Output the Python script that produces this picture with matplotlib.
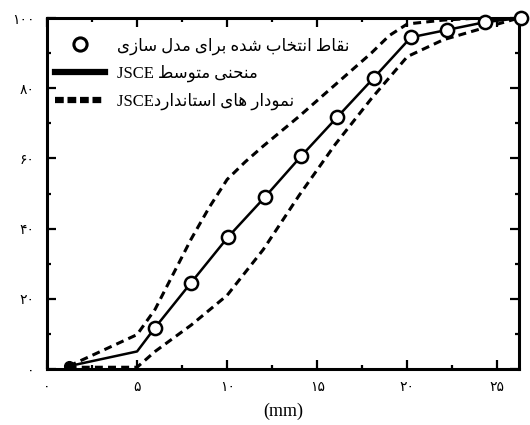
import matplotlib
matplotlib.use('Agg')
import matplotlib.pyplot as plt
from matplotlib.lines import Line2D
from matplotlib.ticker import MultipleLocator, FixedLocator

# منحنی متوسط JSCE (خط پر) و نقاط انتخاب شده
mean_x = [1.2, 5.0, 6.0, 8.0, 10.05, 12.1, 14.1, 16.1, 18.15, 20.2, 22.2, 24.3, 26.3]
mean_y = [0.8, 5.0, 11.8, 24.6, 37.6, 49.0, 60.6, 71.7, 83.0, 94.5, 96.6, 98.8, 100.0]
circle_idx = [2, 3, 4, 5, 6, 7, 8, 9, 10, 11, 12]

# حدود استاندارد JSCE (خط چین)
upper_x = [1.2, 5.0, 6.0, 7.0, 8.0, 9.0, 10.0, 11.0, 12.0, 14.0, 16.0, 18.0, 19.0, 20.0, 22.0, 24.0, 26.2]
upper_y = [0.8, 9.8, 17.0, 27.0, 37.0, 46.0, 54.0, 59.0, 63.5, 72.0, 81.0, 90.0, 95.0, 98.3, 99.4, 100.0, 100.0]
lower_x = [1.2, 5.0, 6.0, 8.0, 10.0, 12.0, 14.0, 16.0, 18.0, 20.0, 22.0, 24.0, 26.2]
lower_y = [0.5, 0.5, 5.0, 12.5, 21.0, 34.0, 49.5, 64.0, 77.0, 89.0, 93.8, 96.8, 100.0]

x_ticks = [0, 5, 10, 15, 20, 25]
x_labels = ['۰', '۵', '۱۰', '۱۵', '۲۰', '۲۵']
y_ticks = [0, 20, 40, 60, 80, 100]
y_labels = ['۰', '۲۰', '۴۰', '۶۰', '۸۰', '۱۰۰']

legend_labels = ['نقاط انتخاب شده برای مدل سازی',
                 'منحنی متوسط JSCE',
                 'نمودار های استانداردJSCE']
x_title = '(mm)'

# شکل های حروف: تنها، پایانی، آغازی، میانی
FORMS = {
    'ا': (0xFE8D, 0xFE8E, None, None),
    'ب': (0xFE8F, 0xFE90, 0xFE91, 0xFE92),
    'ت': (0xFE95, 0xFE96, 0xFE97, 0xFE98),
    'ح': (0xFEA1, 0xFEA2, 0xFEA3, 0xFEA4),
    'خ': (0xFEA5, 0xFEA6, 0xFEA7, 0xFEA8),
    'د': (0xFEA9, 0xFEAA, None, None),
    'ر': (0xFEAD, 0xFEAE, None, None),
    'ز': (0xFEAF, 0xFEB0, None, None),
    'س': (0xFEB1, 0xFEB2, 0xFEB3, 0xFEB4),
    'ش': (0xFEB5, 0xFEB6, 0xFEB7, 0xFEB8),
    'ط': (0xFEC1, 0xFEC2, 0xFEC3, 0xFEC4),
    'ق': (0xFED5, 0xFED6, 0xFED7, 0xFED8),
    'ل': (0xFEDD, 0xFEDE, 0xFEDF, 0xFEE0),
    'م': (0xFEE1, 0xFEE2, 0xFEE3, 0xFEE4),
    'ن': (0xFEE5, 0xFEE6, 0xFEE7, 0xFEE8),
    'ه': (0xFEE9, 0xFEEA, 0xFEEB, 0xFEEC),
    'و': (0xFEED, 0xFEEE, None, None),
    'ی': (0xFEEF, 0xFEF0, 0xFEF3, 0xFEF4),
}


def fa(text):
    """Join Persian letters and put the text in display order."""
    out = []
    for i, c in enumerate(text):
        if c not in FORMS:
            out.append(c)
            continue
        prev_c = text[i - 1] if i > 0 else ''
        next_c = text[i + 1] if i + 1 < len(text) else ''
        j_prev = prev_c in FORMS and FORMS[prev_c][2] is not None
        j_next = next_c in FORMS and FORMS[c][2] is not None
        f = FORMS[c]
        if j_prev and j_next:
            code = f[3]
        elif j_prev:
            code = f[1]
        elif j_next:
            code = f[2]
        else:
            code = f[0]
        out.append(chr(code))
    s = ''.join(out)[::-1]
    # latin words back to left-to-right
    res, run = '', ''
    for c in s:
        if c.isascii() and c.isalnum():
            run += c
        else:
            res += run[::-1] + c
            run = ''
    return res + run[::-1]


fig = plt.figure(figsize=(5.3, 4.25), dpi=100)
ax = fig.add_axes([47 / 530, 1 - 369 / 425, 472 / 530, 351 / 425])

ax.plot(upper_x, upper_y, color='black', lw=2.2, dashes=(2.6, 1.7))
ax.plot(lower_x, lower_y, color='black', lw=2.2, dashes=(2.6, 1.7))
ax.plot(mean_x, mean_y, color='black', lw=1.8, marker='o', markevery=circle_idx,
        markersize=9.5, markerfacecolor='white', markeredgewidth=1.8, clip_on=False, zorder=5)
# نقطه آغاز (پر شده در تصویر)
ax.plot(mean_x[0], mean_y[0], color='black', marker='o', markersize=7, zorder=6)

ax.set_xlim(0, 26.2)
ax.set_ylim(0, 100)
ax.xaxis.set_major_locator(FixedLocator(x_ticks))
ax.yaxis.set_major_locator(FixedLocator(y_ticks))
ax.set_xticklabels(x_labels, family='DejaVu Sans', fontsize=10)
ax.set_yticklabels(y_labels, family='DejaVu Sans', fontsize=10)
ax.xaxis.set_minor_locator(MultipleLocator(2.5))
ax.yaxis.set_minor_locator(MultipleLocator(10))
ax.tick_params(which='both', direction='in', top=True, right=True, width=1.6)
ax.tick_params(which='major', length=6.5)
ax.tick_params(which='minor', length=3)
ax.tick_params(axis='x', which='major', pad=8)
ax.tick_params(axis='y', which='major', pad=9)
for sp in ax.spines.values():
    sp.set_linewidth(2.2)

ax.set_xlabel(x_title, family='Liberation Serif', fontsize=13, labelpad=6)

handles = [
    Line2D([], [], ls='none', marker='o', markersize=9.5, markerfacecolor='white',
           markeredgecolor='black', markeredgewidth=2.2),
    Line2D([], [], color='black', lw=4.5),
    Line2D([], [], color='black', lw=4.5, dashes=(1.4, 0.6)),
]
ax.legend(handles, [fa(t) for t in legend_labels], loc='upper left',
          bbox_to_anchor=(0.018, 0.945), frameon=False, borderpad=0, borderaxespad=0,
          handlelength=3.0, handletextpad=0.7, labelspacing=0.62,
          prop={'family': ['Liberation Serif', 'DejaVu Sans'], 'size': 12})

fig.savefig('out.png', dpi=100)
plt.close(fig)
